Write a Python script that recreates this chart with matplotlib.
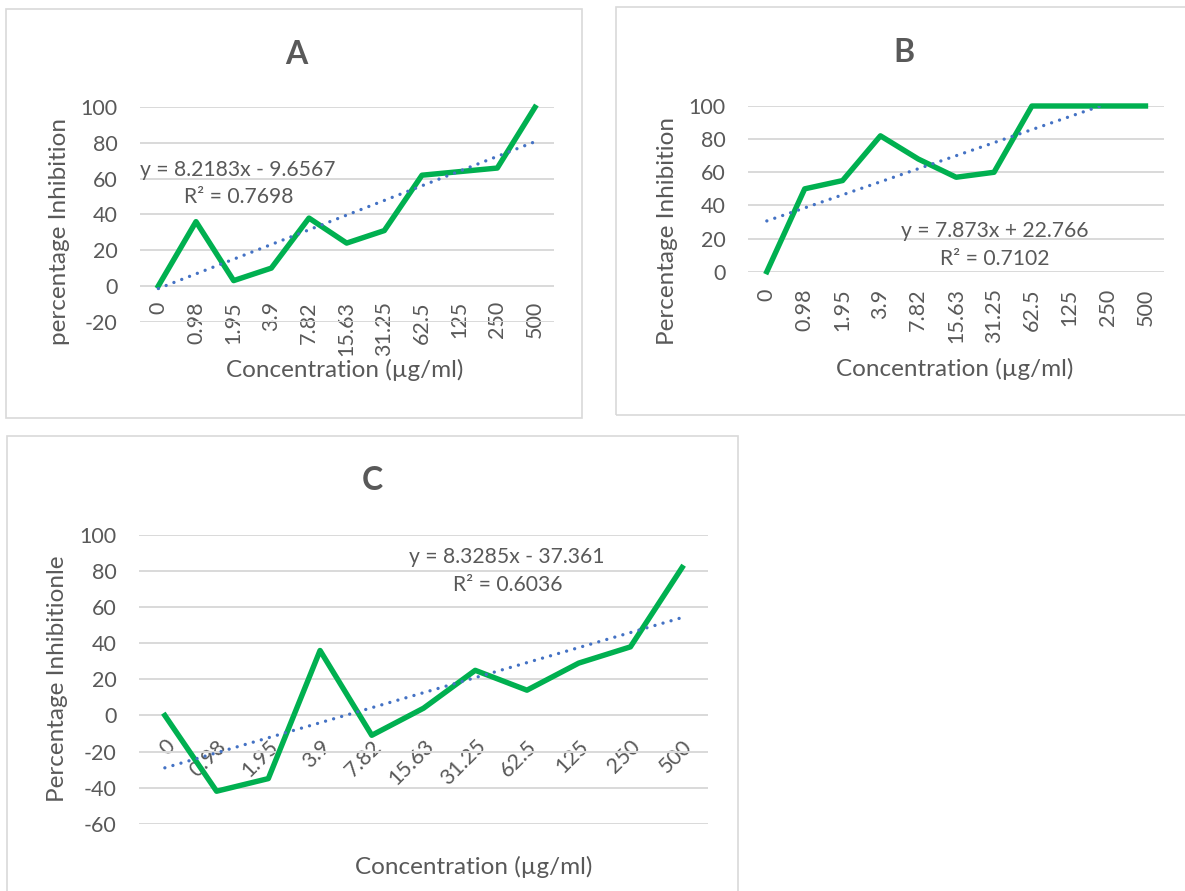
import numpy as np
import matplotlib
matplotlib.use("Agg")
import matplotlib.pyplot as plt
from matplotlib.patches import Rectangle

plt.rcParams["font.family"] = ["Lato", "DejaVu Sans"]

# concentrations (µg/ml) used as category labels on every panel
conc_labels = ["0", "0.98", "1.95", "3.9", "7.82", "15.63", "31.25", "62.5", "125", "250", "500"]

# percentage inhibition for each panel
inhib_a = [0, 36, 3, 10, 38, 24, 31, 62, 64, 66, 100]
inhib_b = [0, 50, 55, 82, 68, 57, 60, 100, 100, 100, 100]
inhib_c = [0, -42, -35, 36, -11, 4, 25, 14, 29, 38, 82]

# linear trendline coefficients (x = category number 1..11)
trend_a = (8.2183, -9.6567, 0.7698)
trend_b = (7.873, 22.766, 0.7102)
trend_c = (8.3285, -37.361, 0.6036)

W, H = 1185, 891
TEXT = "#595959"
GRID = "#D9D9D9"
GREEN = "#00B050"
BLUE = "#4472C4"
TICK_FS = 15.5
LABEL_FS = 17.5
EQ_FS = 15.2

fig = plt.figure(figsize=(W / 100, H / 100), dpi=100)


def px_axes(left, top, right, bottom):
    return fig.add_axes([left / W, 1 - bottom / H, (right - left) / W, (bottom - top) / H])


def px_text(x, y, s, **kw):
    kw.setdefault("color", TEXT)
    kw.setdefault("ha", "center")
    kw.setdefault("va", "center")
    fig.text(x / W, 1 - y / H, s, **kw)


def border(left, top, right, bottom):
    fig.patches.append(Rectangle((left / W, 1 - bottom / H), (right - left) / W, (bottom - top) / H,
                                 transform=fig.transFigure, fill=False, edgecolor=GRID, lw=1.2))


def draw_panel(ax, values, trend, ylim, yticks, rot, xpad):
    idx = np.arange(len(values))
    slope, intercept, _ = trend
    trend_y = slope * (idx + 1) + intercept
    ax.plot(idx, values, color=GREEN, lw=3.9, solid_joinstyle="round", clip_on=False, zorder=3)
    ax.plot(idx, trend_y, color=BLUE, lw=2.4, dashes=(0.01, 2.5), dash_capstyle="round", zorder=4)
    ax.set_xlim(-0.5, len(values) - 0.5)
    ax.set_ylim(*ylim)
    ax.set_yticks(yticks)
    ax.set_yticklabels([str(t) for t in yticks])
    ax.set_xticks(idx)
    ax.grid(axis="y", color=GRID, lw=1.4)
    ax.set_axisbelow(True)
    for sp in ax.spines.values():
        sp.set_visible(False)
    ax.spines["bottom"].set_position(("data", 0))
    ax.tick_params(axis="y", length=0, pad=16, labelsize=TICK_FS, labelcolor=TEXT)
    ax.tick_params(axis="x", length=0, pad=xpad, labelsize=TICK_FS, labelcolor=TEXT)
    if rot == 90:
        ax.set_xticklabels(conc_labels, rotation=90, ha="center", va="top")
    else:
        ax.set_xticklabels(conc_labels, rotation=45, ha="right", va="top", rotation_mode="anchor")
    ax.patch.set_alpha(0)


# panel A
border(6, 9, 582, 418)
ax_a = px_axes(139.5, 107.3, 553.8, 321.7)
draw_panel(ax_a, inhib_a, trend_a, (-20, 100), range(-20, 101, 20), 90, 11)
px_text(296, 55, "A", fontsize=23, fontweight="bold")
px_text(59, 232, "percentage Inhibition", fontsize=LABEL_FS, rotation=90)
px_text(345, 370, "Concentration (\u00b5g/ml)", fontsize=LABEL_FS)
px_text(238, 170, "y = %.4fx - %.4f" % (trend_a[0], -trend_a[1]), fontsize=EQ_FS)
px_text(239, 197, "R\u00b2 = %.4f" % trend_a[2], fontsize=EQ_FS)

# panel B
border(616, 7, 1195, 415)
ax_b = px_axes(747.9, 106, 1164.4, 271.7)
draw_panel(ax_b, inhib_b, trend_b, (0, 100), range(0, 101, 20), 90, 12)
px_text(904, 53, "B", fontsize=23, fontweight="bold")
px_text(667, 231, "Percentage Inhibition", fontsize=LABEL_FS, rotation=90)
px_text(955, 369, "Concentration (\u00b5g/ml)", fontsize=LABEL_FS)
px_text(995, 231, "y = %.3fx + %.3f" % (trend_b[0], trend_b[1]), fontsize=EQ_FS)
px_text(995, 259, "R\u00b2 = %.4f" % trend_b[2], fontsize=EQ_FS)

# panel C
border(7, 436, 738, 900)
ax_c = px_axes(139, 535, 708, 823.7)
draw_panel(ax_c, inhib_c, trend_c, (-60, 100), range(-60, 101, 20), 45, 15)
px_text(372, 481, "C", fontsize=23, fontweight="bold")
px_text(57, 679, "Percentage Inhibitionle", fontsize=LABEL_FS, rotation=90)
px_text(474, 867, "Concentration (\u00b5g/ml)", fontsize=LABEL_FS)
px_text(507, 557, "y = %.4fx - %.3f" % (trend_c[0], -trend_c[1]), fontsize=EQ_FS)
px_text(508, 585, "R\u00b2 = %.4f" % trend_c[2], fontsize=EQ_FS)

fig.savefig("out.png", dpi=100, facecolor="white")
